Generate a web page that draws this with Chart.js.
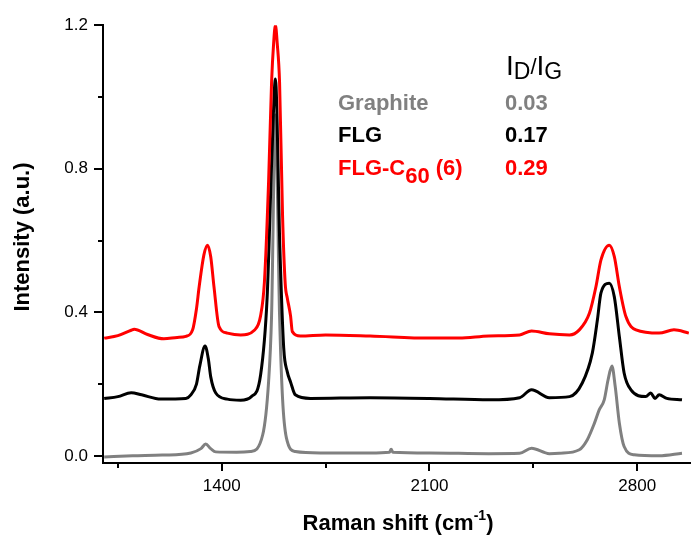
<!DOCTYPE html>
<html lang="en">
<head>
  <meta charset="UTF-8">
  <title>Raman spectra</title>
  <script src="https://cdn.jsdelivr.net/npm/chart.js"></script>
  <style>
    html, body { margin: 0; padding: 0; background: #fff; }
    #wrap { width: 691px; height: 538px; }
  </style>
</head>
<body>
  <div id="wrap"><canvas id="raman"></canvas></div>

  <script>
  // Raman shift (cm-1) and intensity (a.u.)
  const c60X = [1004, 1050, 1095, 1105, 1150, 1205, 1250, 1279, 1302, 1315, 1324, 1340, 1352, 1363, 1374, 1391, 1419, 1464, 1510, 1531, 1544, 1558, 1568, 1575, 1581, 1587, 1595, 1605, 1614, 1621, 1632, 1638, 1665, 1750, 1900, 2100, 2200, 2300, 2404, 2444, 2504, 2572, 2605, 2639, 2661, 2678, 2706, 2723, 2740, 2762, 2796, 2874, 2924, 2974];
  const c60Y = [0.328, 0.335, 0.350, 0.353, 0.338, 0.326, 0.330, 0.333, 0.351, 0.410, 0.471, 0.560, 0.587, 0.555, 0.471, 0.360, 0.342, 0.337, 0.350, 0.390, 0.485, 0.764, 1.04, 1.15, 1.20, 1.15, 1.04, 0.67, 0.48, 0.44, 0.39, 0.346, 0.334, 0.337, 0.334, 0.328, 0.328, 0.334, 0.337, 0.348, 0.340, 0.337, 0.351, 0.397, 0.471, 0.546, 0.587, 0.555, 0.471, 0.388, 0.351, 0.342, 0.351, 0.342];

  const flgX = [1004, 1050, 1095, 1130, 1195, 1279, 1296, 1315, 1326, 1344, 1355, 1363, 1380, 1419, 1464, 1500, 1531, 1553, 1570, 1581, 1596, 1609, 1621, 1632, 1648, 1699, 1900, 2100, 2303, 2404, 2444, 2504, 2572, 2615, 2649, 2666, 2678, 2706, 2723, 2740, 2756, 2779, 2829, 2846, 2860, 2874, 2900, 2951];
  const flgY = [0.160, 0.165, 0.176, 0.170, 0.158, 0.160, 0.170, 0.200, 0.250, 0.306, 0.270, 0.220, 0.175, 0.158, 0.155, 0.165, 0.225, 0.440, 0.857, 1.05, 0.580, 0.300, 0.234, 0.206, 0.170, 0.160, 0.162, 0.160, 0.156, 0.162, 0.184, 0.162, 0.165, 0.203, 0.287, 0.379, 0.454, 0.481, 0.443, 0.332, 0.231, 0.184, 0.165, 0.175, 0.160, 0.170, 0.160, 0.156];

  const graphiteX = [1004, 1100, 1200, 1296, 1330, 1346, 1363, 1380, 1450, 1497, 1538, 1558, 1568, 1581, 1595, 1605, 1618, 1648, 1732, 1900, 1965, 1971, 1977, 2100, 2300, 2404, 2444, 2504, 2538, 2605, 2632, 2656, 2672, 2689, 2702, 2715, 2726, 2740, 2756, 2790, 2874, 2951];
  const graphiteY = [-0.003, 0.000, 0.002, 0.008, 0.020, 0.033, 0.020, 0.011, 0.010, 0.012, 0.058, 0.207, 0.390, 0.95, 0.390, 0.160, 0.050, 0.012, 0.008, 0.008, 0.010, 0.018, 0.010, 0.008, 0.006, 0.007, 0.021, 0.006, 0.007, 0.017, 0.045, 0.091, 0.128, 0.156, 0.212, 0.250, 0.193, 0.091, 0.026, 0.003, 0.000, 0.007];

  const xMajor = [1400, 2100, 2800];
  const xMinor = [1050, 1750, 2450];
  const yMajor = [0.0, 0.4, 0.8, 1.2];
  const yMinor = [0.2, 0.6, 1.0];

  const samples = ['Graphite', 'FLG', 'FLG-C60 (6)'];
  const ratios = ['0.03', '0.17', '0.29'];
  const colors = ['#808080', '#000000', '#ff0000'];

  const FONT = '"Liberation Sans", Arial, sans-serif';

  function pts(xs, ys) {
    return xs.map((x, i) => ({ x: x, y: ys[i] }));
  }

  // tick marks, axis titles and the I_D/I_G table
  const decor = {
    id: 'decor',
    afterDraw(chart) {
      const ctx = chart.ctx;
      const xs = chart.scales.x, ys = chart.scales.y;
      const area = chart.chartArea;
      ctx.save();
      ctx.strokeStyle = '#000';
      ctx.lineWidth = 2;
      ctx.beginPath();
      xMajor.forEach(v => { const p = Math.round(xs.getPixelForValue(v)); ctx.moveTo(p, area.bottom); ctx.lineTo(p, area.bottom + 8); });
      xMinor.forEach(v => { const p = Math.round(xs.getPixelForValue(v)); ctx.moveTo(p, area.bottom); ctx.lineTo(p, area.bottom + 5); });
      yMajor.forEach(v => { const p = Math.round(ys.getPixelForValue(v)); ctx.moveTo(area.left, p); ctx.lineTo(area.left - 9, p); });
      yMinor.forEach(v => { const p = Math.round(ys.getPixelForValue(v)); ctx.moveTo(area.left, p); ctx.lineTo(area.left - 5, p); });
      ctx.stroke();

      ctx.fillStyle = '#000';
      // y title
      ctx.save();
      ctx.translate(23, 237);
      ctx.rotate(-Math.PI / 2);
      ctx.font = 'bold 22px ' + FONT;
      ctx.textAlign = 'center';
      ctx.textBaseline = 'middle';
      ctx.fillText('Intensity (a.u.)', 0, 0);
      ctx.restore();

      // x title with superscript
      ctx.textBaseline = 'alphabetic';
      ctx.textAlign = 'left';
      const big = 'bold 22px ' + FONT, sup = 'bold 14px ' + FONT;
      ctx.font = big; const w1 = ctx.measureText('Raman shift (cm').width;
      ctx.font = sup; const w2 = ctx.measureText('-1').width;
      ctx.font = big; const w3 = ctx.measureText(')').width;
      let x0 = 398 - (w1 + w2 + w3) / 2;
      ctx.font = big; ctx.fillText('Raman shift (cm', x0, 530); x0 += w1;
      ctx.font = sup; ctx.fillText('-1', x0, 520); x0 += w2;
      ctx.font = big; ctx.fillText(')', x0, 530);

      // I_D / I_G header
      let hx = 506;
      ctx.font = '28px ' + FONT; ctx.fillText('I', hx, 75); hx += ctx.measureText('I').width;
      ctx.font = '23px ' + FONT; ctx.fillText('D', hx, 79); hx += ctx.measureText('D').width;
      ctx.font = '22px ' + FONT; ctx.fillText('/', hx, 74); hx += ctx.measureText('/').width;
      ctx.font = '28px ' + FONT; ctx.fillText('I', hx, 75); hx += ctx.measureText('I').width;
      ctx.font = '23px ' + FONT; ctx.fillText('G', hx, 79);

      // sample rows
      const rowY = [110, 142, 175];
      ctx.font = big;
      samples.forEach((s, i) => {
        ctx.fillStyle = colors[i];
        if (s.indexOf('C60') >= 0) {
          let sx = 338;
          ctx.font = big; ctx.fillText('FLG-C', sx, rowY[i]); sx += ctx.measureText('FLG-C').width;
          ctx.font = 'bold 22px ' + FONT; ctx.fillText('60', sx, rowY[i] + 8); sx += ctx.measureText('60').width;
          ctx.font = big; ctx.fillText(' (6)', sx, rowY[i]);
        } else {
          ctx.font = big; ctx.fillText(s, 338, rowY[i]);
        }
        ctx.font = big;
        ctx.fillText(ratios[i], 505, rowY[i]);
      });
      ctx.restore();
    }
  };

  new Chart(document.getElementById('raman'), {
    type: 'line',
    data: {
      datasets: [
        { label: samples[2], data: pts(c60X, c60Y), borderColor: colors[2] },
        { label: samples[1], data: pts(flgX, flgY), borderColor: colors[1] },
        { label: samples[0], data: pts(graphiteX, graphiteY), borderColor: colors[0] }
      ]
    },
    options: {
      responsive: true,
      maintainAspectRatio: false,
      animation: false,
      layout: { padding: { left: 0, right: 1, top: 25, bottom: 0 } },
      elements: {
        point: { radius: 0 },
        line: { borderWidth: 3, cubicInterpolationMode: 'monotone', fill: false }
      },
      plugins: { legend: { display: false }, tooltip: { enabled: false } },
      scales: {
        x: {
          type: 'linear',
          min: 1000,
          max: 2978,
          afterBuildTicks: s => { s.ticks = xMajor.map(v => ({ value: v })); },
          afterFit: s => { s.height = 75; },
          grid: { display: false, drawTicks: false },
          border: { display: true, color: '#000', width: 2 },
          ticks: { padding: 13, color: '#000', font: { family: FONT, size: 17 }, maxRotation: 0, callback: v => String(v) }
        },
        y: {
          min: -0.02,
          max: 1.2,
          afterBuildTicks: s => { s.ticks = yMajor.map(v => ({ value: v })); },
          afterFit: s => { s.width = 103; },
          grid: { display: false, drawTicks: false },
          border: { display: true, color: '#000', width: 2 },
          ticks: { padding: 15, color: '#000', font: { family: FONT, size: 17 }, callback: v => Number(v).toFixed(1) }
        }
      }
    },
    plugins: [decor]
  });
  </script>
</body>
</html>
